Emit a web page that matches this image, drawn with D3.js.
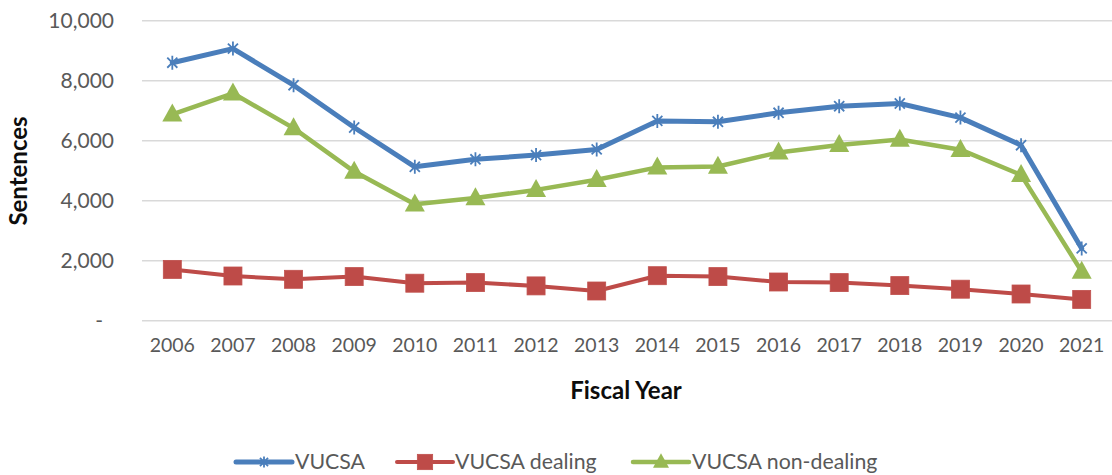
<!DOCTYPE html>
<html>
<head>
<meta charset="utf-8">
<script src="https://cdn.jsdelivr.net/npm/d3@7/dist/d3.min.js"></script>
<style>
  html, body { margin: 0; padding: 0; background: #fff; }
  svg { display: block; }
</style>
</head>
<body>
<svg id="chart" width="1112" height="475"></svg>
<script>
const years = ["2006","2007","2008","2009","2010","2011","2012","2013","2014","2015","2016","2017","2018","2019","2020","2021"];
const vucsa = [8600, 9070, 7850, 6440, 5130, 5380, 5520, 5710, 6660, 6630, 6930, 7150, 7240, 6770, 5850, 2410];
const vucsaDealing = [1710, 1490, 1380, 1470, 1250, 1270, 1160, 990, 1500, 1470, 1290, 1270, 1170, 1050, 890, 710];
const vucsaNonDealing = [6880, 7580, 6420, 4970, 3880, 4090, 4360, 4700, 5110, 5140, 5610, 5860, 6040, 5700, 4860, 1640];
const yTicks = [0, 2000, 4000, 6000, 8000, 10000];
const yTickLabels = ["-", "2,000", "4,000", "6,000", "8,000", "10,000"];
const seriesNames = ["VUCSA", "VUCSA dealing", "VUCSA non-dealing"];

const series = [
  { name: seriesNames[0], values: vucsa, color: "#4a7ebb", width: 5, marker: "star" },
  { name: seriesNames[1], values: vucsaDealing, color: "#be4b48", width: 4, marker: "square" },
  { name: seriesNames[2], values: vucsaNonDealing, color: "#98b954", width: 4.5, marker: "triangle" }
];

const svg = d3.select("#chart");
const font = "Lato, 'Open Sans', sans-serif";

const x = d3.scaleBand().domain(years).range([142, 1112]);
const y = d3.scaleLinear().domain([0, 10000]).range([320.7, 20.7]);
const cx = d => x(d) + x.bandwidth() / 2;

// gridlines
svg.append("g").selectAll("line").data(yTicks).join("line")
  .attr("x1", 142).attr("x2", 1112)
  .attr("y1", d => y(d)).attr("y2", d => y(d))
  .attr("stroke", "#d9d9d9").attr("stroke-width", 1.5);

// y axis
const yAxis = d3.axisLeft(y).tickValues(yTicks)
  .tickFormat((d, i) => yTickLabels[i]).tickSize(0).tickPadding(0);
const yg = svg.append("g").attr("transform", "translate(114,0)").call(yAxis);
yg.select(".domain").remove();
yg.selectAll("text")
  .attr("font-family", font).attr("font-size", 21).attr("fill", "#595959")
  .attr("dx", (d, i) => d === 0 ? -11 : 0);

// x axis
const xAxis = d3.axisBottom(x).tickSize(0).tickPadding(0);
const xg = svg.append("g").attr("transform", "translate(0,337)").call(xAxis);
xg.select(".domain").remove();
xg.selectAll("text")
  .attr("font-family", font).attr("font-size", 19.5).attr("fill", "#595959")
  .attr("dy", "0.75em");

// axis titles
svg.append("text")
  .attr("transform", "translate(27,171) rotate(-90)")
  .attr("text-anchor", "middle")
  .attr("font-family", font).attr("font-weight", "bold").attr("font-size", 24)
  .attr("fill", "#0d0d0d").text("Sentences");
svg.append("text")
  .attr("x", 626).attr("y", 399)
  .attr("text-anchor", "middle")
  .attr("font-family", font).attr("font-weight", "bold").attr("font-size", 24)
  .attr("fill", "#0d0d0d").text("Fiscal Year");

function drawMarker(g, type, color, px, py, scale) {
  if (type === "square") {
    const s = 18 * scale;
    g.append("rect").attr("x", px - s / 2).attr("y", py - s / 2)
      .attr("width", s).attr("height", s)
      .attr("fill", color).attr("stroke", "#c0504d").attr("stroke-width", 0.8);
  } else if (type === "triangle") {
    const w = 20 * scale, h = 18 * scale;
    g.append("path")
      .attr("d", `M${px},${py - h * 0.6}L${px + w / 2},${py + h * 0.4}L${px - w / 2},${py + h * 0.4}Z`)
      .attr("fill", color);
  } else {
    const r = 7 * scale;
    const d = r * 0.72;
    g.append("path")
      .attr("d", `M${px},${py - r}L${px},${py + r}M${px - d},${py - d}L${px + d},${py + d}M${px - d},${py + d}L${px + d},${py - d}`)
      .attr("stroke", color).attr("stroke-width", 1.8).attr("fill", "none");
  }
}

const line = d3.line().x((d, i) => cx(years[i])).y(d => y(d));

series.forEach(s => {
  const g = svg.append("g");
  g.append("path").datum(s.values).attr("d", line)
    .attr("fill", "none").attr("stroke", s.color).attr("stroke-width", s.width)
    .attr("stroke-linejoin", "round").attr("stroke-linecap", "round");
  s.values.forEach((v, i) => drawMarker(g, s.marker, s.color, cx(years[i]), y(v), 1));
});

// legend
const legendItems = [
  { lx: 236, tx: 295 },
  { lx: 397, tx: 455 },
  { lx: 633, tx: 692 }
];
const ly = 462;
series.forEach((s, i) => {
  const g = svg.append("g");
  const L = legendItems[i];
  g.append("line").attr("x1", L.lx).attr("x2", L.lx + 56).attr("y1", ly).attr("y2", ly)
    .attr("stroke", s.color).attr("stroke-width", s.width).attr("stroke-linecap", "round");
  drawMarker(g, s.marker, s.color, L.lx + 28, ly, s.marker === "square" ? 0.85 : 0.8);
  g.append("text").attr("x", L.tx).attr("y", ly).attr("dy", "0.35em")
    .attr("font-family", font).attr("font-size", 21.3).attr("fill", "#595959")
    .text(s.name);
});
</script>
</body>
</html>
